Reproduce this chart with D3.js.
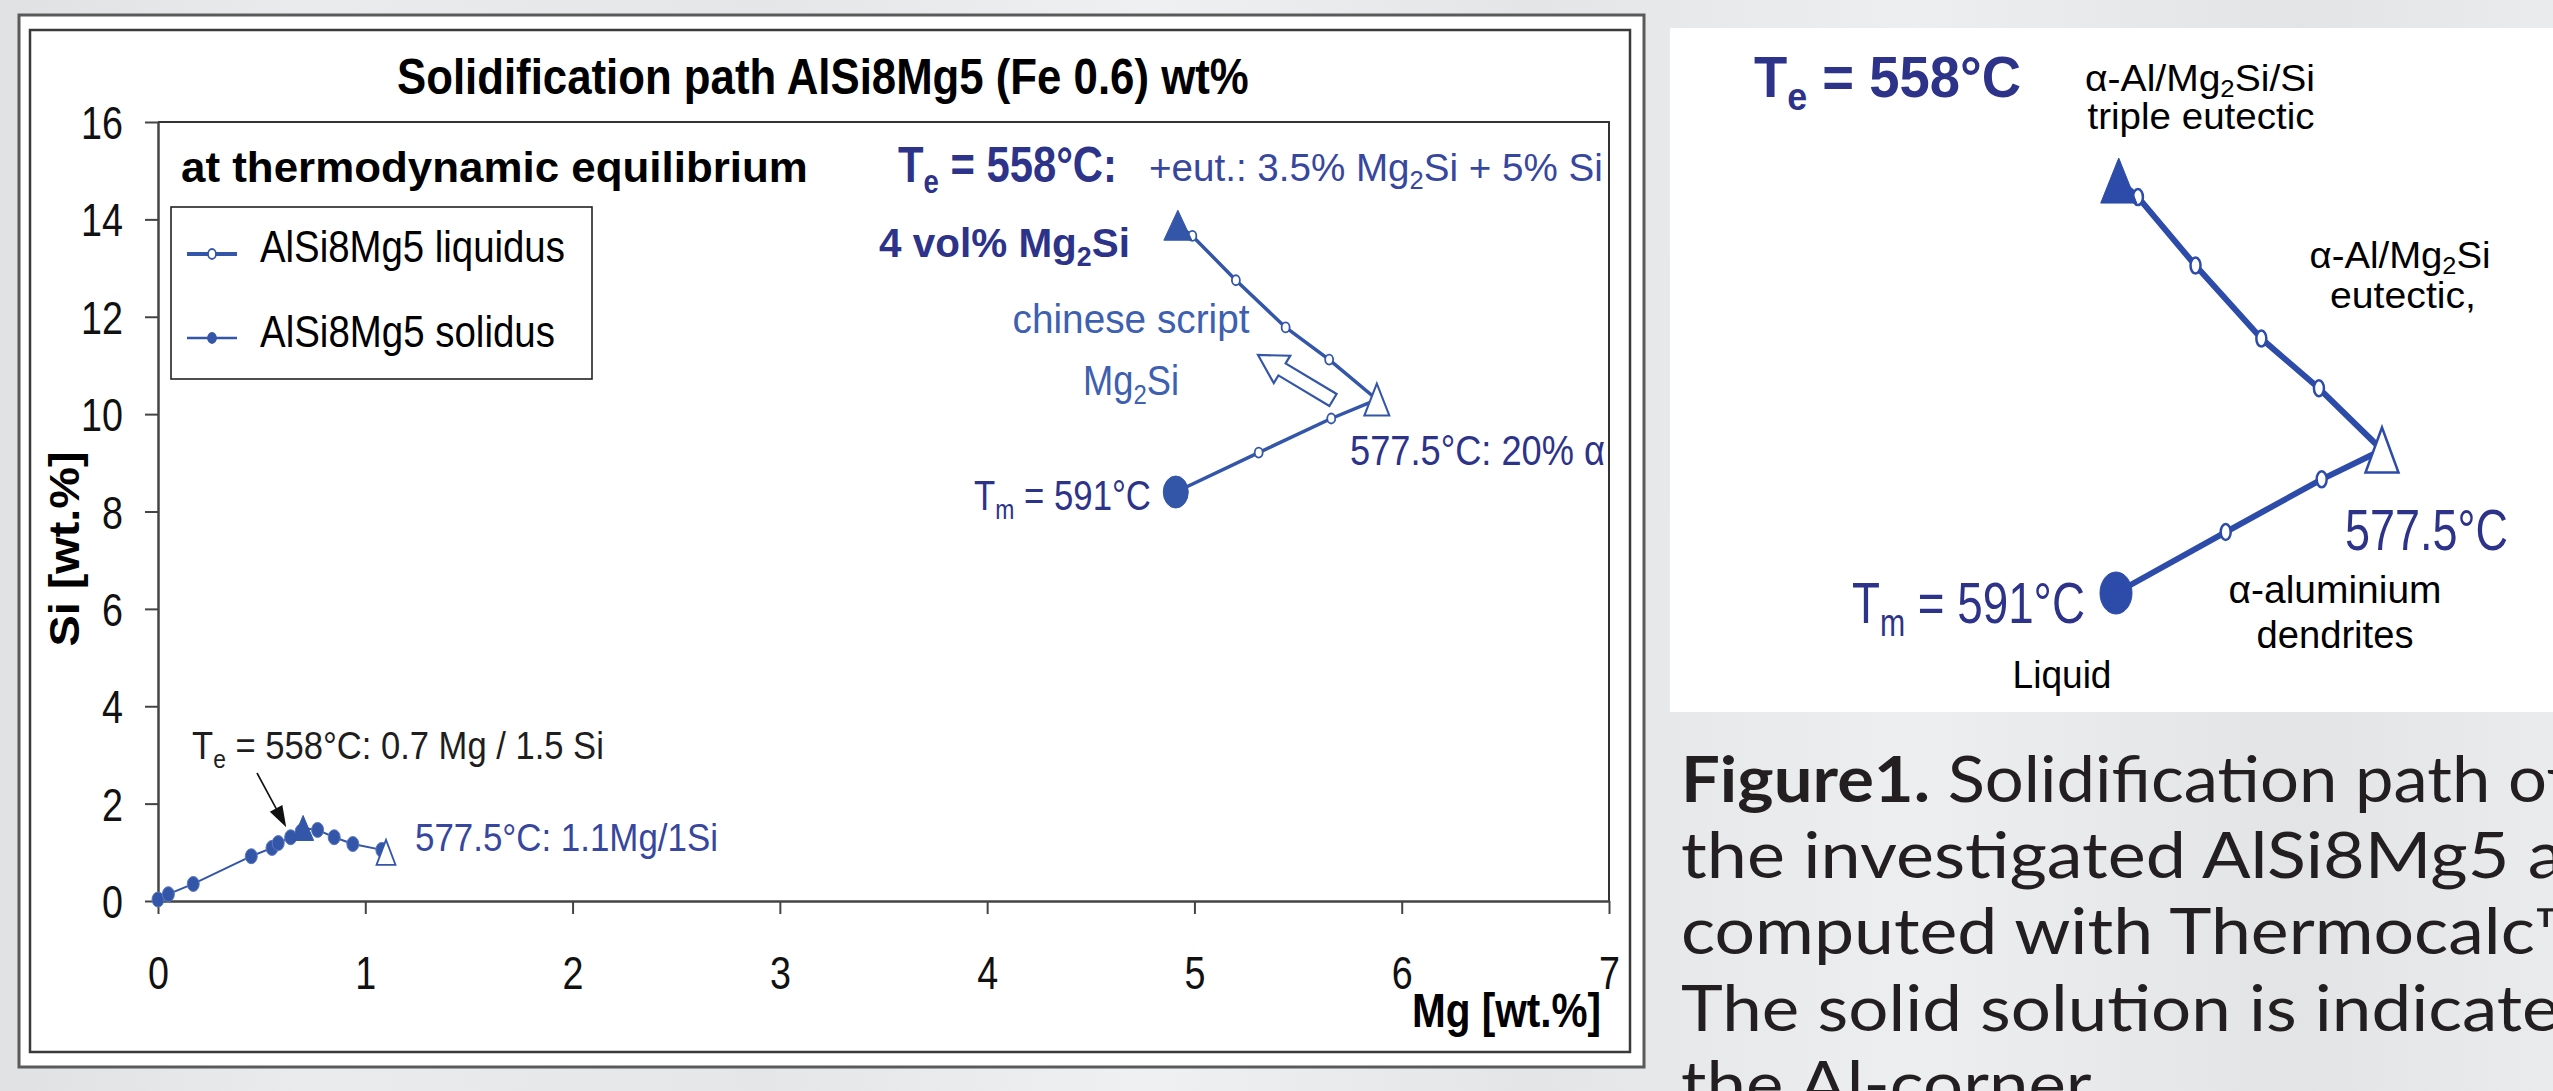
<!DOCTYPE html>
<html>
<head>
<meta charset="utf-8">
<script src="https://cdn.jsdelivr.net/npm/d3@7"></script>
<style>
  html, body { margin: 0; padding: 0; overflow: hidden; background: #e7e9ea; }
  svg { display: block; }
</style>
</head>
<body>
<svg id="fig" width="2553" height="1091"></svg>
<script>
// ---- data (Mg / Si in wt.%) ----
const mgTicks = [0, 1, 2, 3, 4, 5, 6, 7];
const siTicks = [0, 2, 4, 6, 8, 10, 12, 14, 16];

// liquidus path: Tm (591 °C) -> 577.5 °C -> Te (558 °C)
const liquidusMg = [4.91, 5.31, 5.66, 5.88, 5.65, 5.44, 5.20, 4.99, 4.92];
const liquidusSi = [8.40, 9.21, 9.91, 10.30, 11.12, 11.78, 12.75, 13.66, 13.88];
const liquidusMark = ["start", "o", "o", "open", "o", "o", "o", "o", "end"];

// solidus path in the Al corner
const solidusMg = [0.00, 0.05, 0.17, 0.45, 0.55, 0.58, 0.64, 0.69, 0.70, 0.77, 0.85, 0.94, 1.08, 1.10];
const solidusSi = [0.03, 0.14, 0.35, 0.92, 1.09, 1.19, 1.31, 1.42, 1.50, 1.46, 1.31, 1.17, 1.05, 1.00];
const solidusMark = ["o", "o", "o", "o", "o", "o", "o", "o", "end", "o", "o", "o", "o", "open"];

const legendLabels = ["AlSi8Mg5 liquidus", "AlSi8Mg5 solidus"];

// ---- styles ----
const ARIAL = "'Liberation Sans', Arial, Helvetica, sans-serif";
const CAPTION_FONT = "Lato, 'Open Sans', 'Noto Sans', sans-serif";
const NAVY = "#2d3389";
const BLUE = "#3456a8";
const MIDBLUE = "#37479e";
const LIGHTBLUE = "#3d60b0";
const INSET_BLUE = "#2d4ba8";

const svg = d3.select("#fig");
const defs = svg.append("defs");

// soft grey page background
const bg = defs.append("linearGradient").attr("id", "bg")
  .attr("x1", 0).attr("x2", 1).attr("y1", 0).attr("y2", 0);
[[0, "#dfe1e2"], [0.12, "#e9ebec"], [0.3, "#e4e6e7"], [0.45, "#eef0f1"],
 [0.6, "#e3e5e6"], [0.75, "#eceeef"], [0.9, "#e2e4e5"], [1, "#e9ebec"]]
  .forEach(([o, c]) => bg.append("stop").attr("offset", o).attr("stop-color", c));
svg.append("rect").attr("width", 2553).attr("height", 1091).attr("fill", "url(#bg)");

// ---- text helper: parses T_{e} style subscripts, fits to a given width ----
function parts(str) {
  const out = []; const re = /_\{([^}]*)\}/g; let last = 0, m;
  while ((m = re.exec(str))) {
    if (m.index > last) out.push({ t: str.slice(last, m.index) });
    out.push({ t: m[1], sub: true });
    last = re.lastIndex;
  }
  if (last < str.length) out.push({ t: str.slice(last) });
  return out;
}
function label(g, str, o) {
  const t = g.append("text")
    .attr("font-family", o.family || ARIAL)
    .attr("font-size", o.size)
    .attr("font-weight", o.weight || 400)
    .attr("fill", o.fill || "#000")
    .attr("text-anchor", o.anchor || "start");
  const drop = o.size * (o.subDrop || 0.22);
  let shifted = false;
  parts(str).forEach(p => {
    const s = t.append("tspan").text(p.t);
    if (p.sub) { s.attr("font-size", o.size * 0.66).attr("dy", drop); shifted = true; }
    else if (shifted) { s.attr("dy", -drop); shifted = false; }
  });
  const nat = t.node().getComputedTextLength();
  const k = o.width ? o.width / nat : (o.k || 1);
  const rot = o.rotate ? ` rotate(${o.rotate})` : "";
  t.attr("transform", `translate(${o.x},${o.y})${rot} scale(${k},1)`);
  return t;
}

// ---- marker helpers ----
function triPath(w, h) {
  return `M0,${-h / 2}L${w / 2},${h / 2}L${-w / 2},${h / 2}Z`;
}
function drawMarkers(g, xs, ys, kinds, sx, sy, spec) {
  kinds.forEach((kind, i) => {
    const cx = sx(xs[i]), cy = sy(ys[i]);
    const s = spec[kind];
    if (s.shape === "ellipse") {
      g.append("ellipse").attr("cx", cx).attr("cy", cy)
        .attr("rx", s.rx).attr("ry", s.ry)
        .attr("fill", s.fill).attr("stroke", s.stroke).attr("stroke-width", s.sw);
    } else {
      g.append("path").attr("d", triPath(s.w, s.h))
        .attr("transform", `translate(${cx},${cy})`)
        .attr("fill", s.fill).attr("stroke", s.stroke).attr("stroke-width", s.sw)
        .attr("stroke-linejoin", "miter");
    }
  });
}

// =================== left chart ===================
svg.append("rect").attr("x", 19).attr("y", 15).attr("width", 1625).attr("height", 1052)
  .attr("fill", "#fff").attr("stroke", "#5a5a5a").attr("stroke-width", 3);
svg.append("rect").attr("x", 30).attr("y", 30).attr("width", 1600).attr("height", 1022)
  .attr("fill", "none").attr("stroke", "#3a3a3a").attr("stroke-width", 2.5);

const x = d3.scaleLinear().domain([0, 7]).range([158, 1609]);
const y = d3.scaleLinear().domain([0, 16]).range([901, 122]);

const chart = svg.append("g");

// plot frame (top and right edges)
chart.append("path")
  .attr("d", `M${x(0)},${y(16)}H${x(7)}V${y(0)}`)
  .attr("fill", "none").attr("stroke", "#333").attr("stroke-width", 2);

const yAxis = chart.append("g").attr("transform", `translate(${x(0)},0)`)
  .call(d3.axisLeft(y).tickValues(siTicks).tickSize(13).tickSizeOuter(0).tickFormat(d3.format("d")));
const xAxis = chart.append("g").attr("transform", `translate(0,${y(0)})`)
  .call(d3.axisBottom(x).tickValues(mgTicks).tickSize(13).tickSizeOuter(0).tickFormat(d3.format("d")));

[yAxis, xAxis].forEach(a => {
  a.select(".domain").attr("stroke", "#444").attr("stroke-width", 2.5);
  a.selectAll(".tick line").attr("stroke", "#444").attr("stroke-width", 2);
  a.selectAll(".tick text").attr("font-family", ARIAL).attr("font-size", 46).attr("fill", "#111");
});
yAxis.selectAll(".tick text").attr("x", null).attr("dy", "0.36em")
  .attr("transform", "translate(-35,0) scale(0.82,1)");
xAxis.selectAll(".tick text").attr("y", null).attr("dy", null)
  .attr("transform", "translate(0,88) scale(0.82,1)");

// axis titles
label(chart, "Mg [wt.%]", { x: 1412, y: 1027, size: 48, weight: 700, width: 189 });
label(chart, "Si [wt.%]", { x: 79, y: 549, size: 42, weight: 700, width: 195, anchor: "middle", rotate: -90 });

// title and header
label(chart, "Solidification path AlSi8Mg5 (Fe 0.6) wt%", { x: 397, y: 94, size: 50, weight: 700, width: 852 });
label(chart, "at thermodynamic equilibrium", { x: 181, y: 182, size: 42, weight: 700, width: 627 });

// legend
const lg = chart.append("g");
lg.append("rect").attr("x", 171).attr("y", 207).attr("width", 421).attr("height", 172)
  .attr("fill", "#fff").attr("stroke", "#222").attr("stroke-width", 1.6);
const legendRows = [{ y: 254, sw: 4, mark: "o" }, { y: 338, sw: 2.5, mark: "f" }];
legendLabels.forEach((name, i) => {
  const r = legendRows[i];
  lg.append("line").attr("x1", 187).attr("x2", 237).attr("y1", r.y).attr("y2", r.y)
    .attr("stroke", BLUE).attr("stroke-width", r.sw);
  lg.append("ellipse").attr("cx", 212).attr("cy", r.y).attr("rx", 4).attr("ry", 5)
    .attr("fill", r.mark === "o" ? "#fff" : BLUE).attr("stroke", BLUE).attr("stroke-width", 1.8);
  label(lg, name, { x: 260, y: r.y + 8 + (i === 0 ? 0 : 1), size: 44, width: i === 0 ? 305 : 295 });
});

// liquidus path
const line = d3.line().x(d => x(d[0])).y(d => y(d[1]));
chart.append("path").datum(d3.zip(liquidusMg, liquidusSi)).attr("d", line)
  .attr("fill", "none").attr("stroke", BLUE).attr("stroke-width", 3.5).attr("stroke-linejoin", "round");
drawMarkers(chart, liquidusMg, liquidusSi, liquidusMark, x, y, {
  start: { shape: "ellipse", rx: 12.5, ry: 16, fill: BLUE, stroke: BLUE, sw: 1 },
  o: { shape: "ellipse", rx: 4, ry: 5, fill: "#fff", stroke: BLUE, sw: 1.8 },
  open: { shape: "tri", w: 25, h: 32, fill: "#fff", stroke: BLUE, sw: 2 },
  end: { shape: "tri", w: 28, h: 30, fill: BLUE, stroke: BLUE, sw: 1 }
});

// solidus path
chart.append("path").datum(d3.zip(solidusMg, solidusSi)).attr("d", line)
  .attr("fill", "none").attr("stroke", BLUE).attr("stroke-width", 2);
drawMarkers(chart, solidusMg, solidusSi, solidusMark, x, y, {
  o: { shape: "ellipse", rx: 6, ry: 7.5, fill: BLUE, stroke: "#5a78c0", sw: 1 },
  open: { shape: "tri", w: 19, h: 25, fill: "#fff", stroke: BLUE, sw: 1.8 },
  end: { shape: "tri", w: 21, h: 25, fill: BLUE, stroke: BLUE, sw: 1 }
});

// annotations of the liquidus path
label(chart, "T_{e} = 558°C:", { x: 898, y: 182, size: 50, weight: 700, fill: NAVY, width: 219 });
label(chart, "+eut.: 3.5% Mg_{2}Si + 5% Si", { x: 1149, y: 181, size: 38, fill: MIDBLUE, width: 454 });
label(chart, "4 vol% Mg_{2}Si", { x: 879, y: 257, size: 41, weight: 700, fill: NAVY, width: 251 });
label(chart, "chinese script", { x: 1131, y: 333, size: 40, fill: LIGHTBLUE, width: 237, anchor: "middle" });
label(chart, "Mg_{2}Si", { x: 1131, y: 395, size: 42, fill: LIGHTBLUE, width: 96, anchor: "middle" });
label(chart, "T_{m} = 591°C", { x: 974, y: 510, size: 42, fill: NAVY, width: 177 });
label(chart, "577.5°C: 20% α", { x: 1350, y: 465, size: 42, fill: NAVY, width: 255 });

// hollow arrow: direction of Mg2Si growth
const tail = [1333, 400], tip = [1258, 355];
const ang = Math.atan2(tip[1] - tail[1], tip[0] - tail[0]) * 180 / Math.PI;
const L = Math.hypot(tip[0] - tail[0], tip[1] - tail[1]);
chart.append("path")
  .attr("d", `M0,-7H${L - 28}V-16L${L},0L${L - 28},16V7H0Z`)
  .attr("transform", `translate(${tail[0]},${tail[1]}) rotate(${ang})`)
  .attr("fill", "#fff").attr("stroke", BLUE).attr("stroke-width", 2.2).attr("stroke-linejoin", "miter");

// annotations of the solidus path
label(chart, "T_{e} = 558°C: 0.7 Mg / 1.5 Si", { x: 192, y: 759, size: 39, fill: "#1e1e1e", width: 412 });
label(chart, "577.5°C: 1.1Mg/1Si", { x: 415, y: 851, size: 39, fill: MIDBLUE, width: 303 });
const a0 = [257, 773], a1 = [285, 825];
const aa = Math.atan2(a1[1] - a0[1], a1[0] - a0[0]) * 180 / Math.PI;
const aL = Math.hypot(a1[0] - a0[0], a1[1] - a0[1]);
chart.append("path")
  .attr("d", `M0,0H${aL - 16}M${aL},0L${aL - 18},-6L${aL - 18},6Z`)
  .attr("transform", `translate(${a0[0]},${a0[1]}) rotate(${aa})`)
  .attr("fill", "#111").attr("stroke", "#111").attr("stroke-width", 1.6);

// =================== inset: enlarged liquidus path ===================
const inset = svg.append("g");
inset.append("rect").attr("x", 1670).attr("y", 28).attr("width", 883).attr("height", 684).attr("fill", "#fff");

const ix = d3.scaleLinear().domain([4.91, 5.88]).range([2116, 2382]);
const iy = d3.scaleLinear().domain([8.40, 10.30]).range([593, 450]);
const iline = d3.line().x(d => ix(d[0])).y(d => iy(d[1]));
inset.append("path").datum(d3.zip(liquidusMg, liquidusSi)).attr("d", iline)
  .attr("fill", "none").attr("stroke", INSET_BLUE).attr("stroke-width", 6).attr("stroke-linejoin", "round");
drawMarkers(inset, liquidusMg, liquidusSi, liquidusMark, ix, iy, {
  start: { shape: "ellipse", rx: 16, ry: 21, fill: INSET_BLUE, stroke: INSET_BLUE, sw: 1 },
  o: { shape: "ellipse", rx: 5, ry: 8, fill: "#fff", stroke: INSET_BLUE, sw: 2.5 },
  open: { shape: "tri", w: 33, h: 45, fill: "#fff", stroke: INSET_BLUE, sw: 2.5 },
  end: { shape: "tri", w: 36, h: 45, fill: INSET_BLUE, stroke: INSET_BLUE, sw: 1 }
});

label(inset, "T_{e} = 558°C", { x: 1754, y: 97, size: 58, weight: 700, fill: NAVY, width: 267 });
label(inset, "α-Al/Mg_{2}Si/Si", { x: 2200, y: 91, size: 37, anchor: "middle", width: 230, subDrop: 0.16 });
label(inset, "triple eutectic", { x: 2201, y: 129, size: 37, anchor: "middle", width: 227 });
label(inset, "α-Al/Mg_{2}Si", { x: 2400, y: 268, size: 37, anchor: "middle", width: 181, subDrop: 0.16 });
label(inset, "eutectic,", { x: 2403, y: 308, size: 37, anchor: "middle", width: 146 });
label(inset, "577.5°C", { x: 2345, y: 550, size: 58, fill: NAVY, width: 163 });
label(inset, "α-aluminium", { x: 2335, y: 603, size: 38, anchor: "middle", width: 213 });
label(inset, "dendrites", { x: 2335, y: 648, size: 38, anchor: "middle", width: 157 });
label(inset, "T_{m} = 591°C", { x: 1852, y: 623, size: 58, fill: NAVY, width: 233 });
label(inset, "Liquid", { x: 2062, y: 688, size: 38, anchor: "middle", width: 99 });

// =================== caption ===================
const captionLines = [
  [["Figure1.", 700], [" Solidification path of", 400]],
  [["the investigated AlSi8Mg5 alloy", 400]],
  [["computed with Thermocalc™.", 400]],
  [["The solid solution is indicated in", 400]],
  [["the Al-corner.", 400]]
];
// characters counted and the width they span, per line
const captionFit = [[29, 827], [26, 847], [24, 853], [22, 634], [null, null]];
const cap = svg.append("g");
const ks = [];
captionLines.forEach((ln, i) => {
  const t = cap.append("text").attr("font-family", CAPTION_FONT).attr("font-size", 64).attr("fill", "#231f20");
  ln.forEach(([s, w]) => t.append("tspan").attr("font-weight", w).text(s));
  const [n, w] = captionFit[i];
  let k = n ? w / t.node().getSubStringLength(0, n) : d3.mean(ks);
  if (n) ks.push(k);
  t.attr("transform", `translate(1681,${802 + i * 76.2}) scale(${k},1)`);
});
</script>
</body>
</html>
